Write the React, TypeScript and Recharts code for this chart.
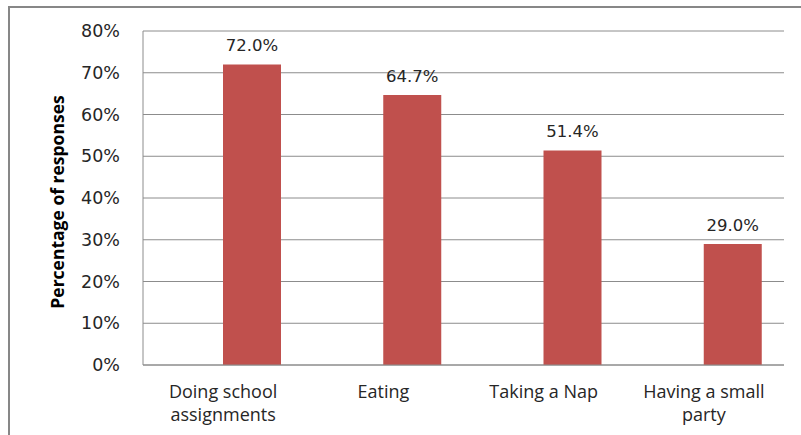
import React from "react";
import {
  BarChart,
  Bar,
  XAxis,
  YAxis,
  CartesianGrid,
  LabelList,
  Label,
  Text,
} from "recharts";

const categories = [
  "Doing school assignments",
  "Eating",
  "Taking a Nap",
  "Having a small party",
];
const responses = [72.0, 64.7, 51.4, 29.0];
const yTicks = [0, 10, 20, 30, 40, 50, 60, 70, 80];

// Excel chart had an empty first series, so the real bars sit right of centre
const data = categories.map((name, i) => ({
  name,
  empty: null,
  value: responses[i],
}));

const CategoryTick = ({ x, y, payload }) => (
  <Text
    x={x}
    y={y + 20}
    width={140}
    textAnchor="middle"
    verticalAnchor="start"
    lineHeight={23}
    style={{ fontFamily: "Open Sans", fontSize: 18, fill: "#262626" }}
  >
    {payload.value}
  </Text>
);

export default function App() {
  return (
    <div
      style={{
        position: "fixed",
        left: 0,
        top: 0,
        width: 801,
        height: 435,
        overflow: "hidden",
        background: "#fff",
      }}
    >
      <div
        style={{
          position: "absolute",
          left: 8,
          top: 6,
          width: 840,
          height: 470,
          border: "2px solid #878787",
        }}
      />
      <div style={{ position: "absolute", left: 0, top: 0 }}>
        <BarChart
          width={801}
          height={435}
          data={data}
          margin={{ top: 31, right: 17, left: 0, bottom: 0 }}
          barCategoryGap={22}
          barGap={0}
        >
          <CartesianGrid vertical={false} stroke="#8c8c8c" />
          <XAxis
            dataKey="name"
            height={70}
            tickLine={false}
            tickSize={0}
            tickMargin={0}
            stroke="#8c8c8c"
            interval={0}
            tick={<CategoryTick />}
          />
          <YAxis
            width={143}
            domain={[0, 80]}
            ticks={yTicks}
            tickFormatter={(v) => `${v}%`}
            tickLine={false}
            tickSize={0}
            tickMargin={23}
            stroke="#8c8c8c"
            tick={{ fontFamily: "DejaVu Sans", fontSize: 17.5, fill: "#262626" }}
          >
            <Label
              content={() => (
                <text
                  x={57}
                  y={202}
                  transform="rotate(-90 57 202)"
                  textAnchor="middle"
                  dominantBaseline="central"
                  style={{
                    fontFamily: "Open Sans",
                    fontWeight: "bold",
                    fontSize: 17.5,
                    fill: "#000",
                  }}
                >
                  Percentage of responses
                </text>
              )}
            />
          </YAxis>
          <Bar dataKey="empty" fill="#C0504D" isAnimationActive={false} />
          <Bar dataKey="value" fill="#C0504D" isAnimationActive={false}>
            <LabelList
              dataKey="value"
              position="top"
              offset={13}
              formatter={(v) => `${Number(v).toFixed(1)}%`}
              style={{ fontFamily: "DejaVu Sans", fontSize: 16.5, fill: "#262626" }}
            />
          </Bar>
        </BarChart>
      </div>
    </div>
  );
}
